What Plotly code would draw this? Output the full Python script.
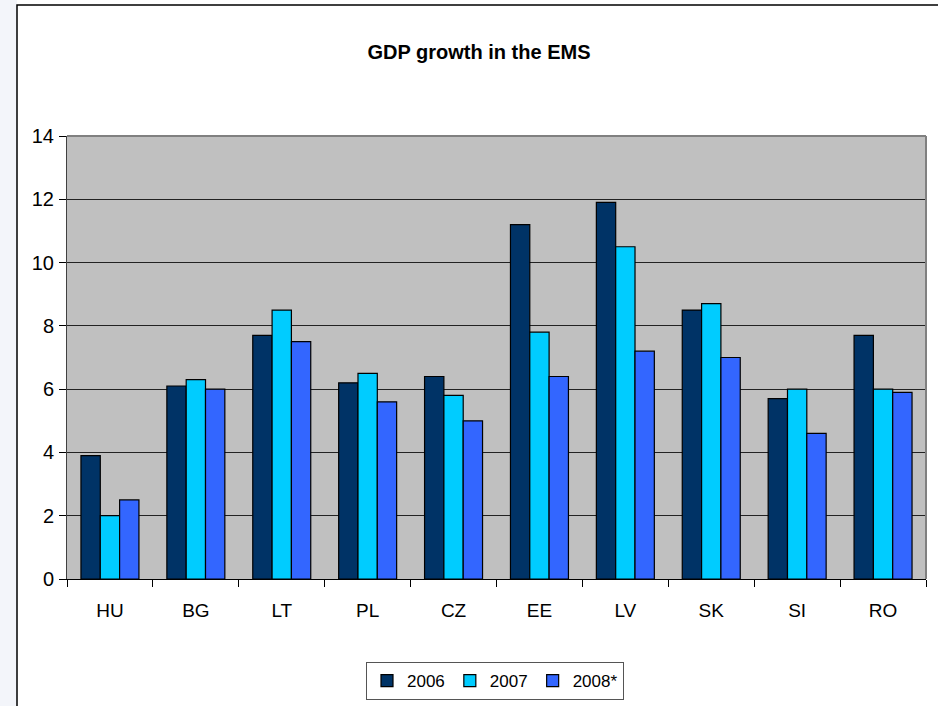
import plotly.graph_objects as go

countries = ["HU", "BG", "LT", "PL", "CZ", "EE", "LV", "SK", "SI", "RO"]
gdp_2006 = [3.9, 6.1, 7.7, 6.2, 6.4, 11.2, 11.9, 8.5, 5.7, 7.7]
gdp_2007 = [2.0, 6.3, 8.5, 6.5, 5.8, 7.8, 10.5, 8.7, 6.0, 6.0]
gdp_2008 = [2.5, 6.0, 7.5, 5.6, 5.0, 6.4, 7.2, 7.0, 4.6, 5.9]
series_names = ["2006", "2007", "2008*"]
series_colors = ["#003366", "#00CCFF", "#3366FF"]
y_ticks = [0, 2, 4, 6, 8, 10, 12, 14]

FONT = "Liberation Sans Narrow, Arial Narrow, Liberation Sans, Arial, sans-serif"

fig = go.Figure()
for name, vals, col in zip(series_names, [gdp_2006, gdp_2007, gdp_2008], series_colors):
    fig.add_trace(go.Bar(
        x=countries, y=vals, name=name,
        marker=dict(color=col, line=dict(color="#000000", width=1.2)),
    ))

W, H = 938, 706
L, R, T, B = 67, 12, 136, 127
pw, ph = W - L - R, H - T - B

def px_x(p):
    return (p - L) / pw

def px_y(p):
    return (H - B - p) / ph

fig.update_layout(
    width=W, height=H,
    margin=dict(l=L, r=R, t=T, b=B, autoexpand=False),
    paper_bgcolor="white",
    plot_bgcolor="#C0C0C0",
    barmode="group",
    bargap=0.325,
    bargroupgap=0,
    font=dict(family=FONT, size=19, color="#000000"),
    title=dict(text="<b>GDP growth in the EMS</b>", xref="container", x=479 / W, xanchor="center",
               yref="container", y=1 - 52 / H, yanchor="middle",
               font=dict(family=FONT, size=20, color="#000000")),
    showlegend=True,
    legend=dict(orientation="h", x=px_x(495), xanchor="center", y=px_y(681), yanchor="middle",
                bgcolor="white", bordercolor="#555555", borderwidth=1,
                font=dict(family=FONT, size=17, color="#000000"),
                itemwidth=30, traceorder="normal"),
    xaxis=dict(
        showline=True, linecolor="#000000", linewidth=1,
        ticks="outside", ticklen=7, tickcolor="#000000", tickson="boundaries",
        showgrid=False, tickfont=dict(family=FONT, size=19),
        ticklabelstandoff=14,
    ),
    yaxis=dict(
        range=[0, 14], tickvals=y_ticks, ticktext=[str(v) for v in y_ticks],
        showline=True, linecolor="#404040", linewidth=1,
        ticks="outside", ticklen=7, tickcolor="#000000",
        showgrid=True, gridcolor="#222222", gridwidth=1,
        zeroline=False, tickfont=dict(family=FONT, size=20),
        ticklabelstandoff=1,
    ),
    shapes=[
        # slide background strip at left
        dict(type="rect", xref="paper", yref="paper", x0=px_x(0), x1=px_x(17), y0=px_y(H + 20), y1=px_y(0),
             fillcolor="#F3F5FA", line=dict(width=0), layer="below"),
        # chart border
        dict(type="rect", xref="paper", yref="paper", x0=px_x(17), x1=px_x(W + 20), y0=px_y(H + 20), y1=px_y(5),
             fillcolor="rgba(0,0,0,0)", line=dict(color="#000000", width=1.5), layer="above"),
        # plot area top/right border
        dict(type="line", xref="paper", yref="paper", x0=0, x1=1, y0=1, y1=1,
             line=dict(color="#808080", width=2), layer="above"),
        dict(type="line", xref="paper", yref="paper", x0=1, x1=1, y0=0, y1=1,
             line=dict(color="#808080", width=2), layer="above"),
    ],
)

fig.write_html("out.html")
